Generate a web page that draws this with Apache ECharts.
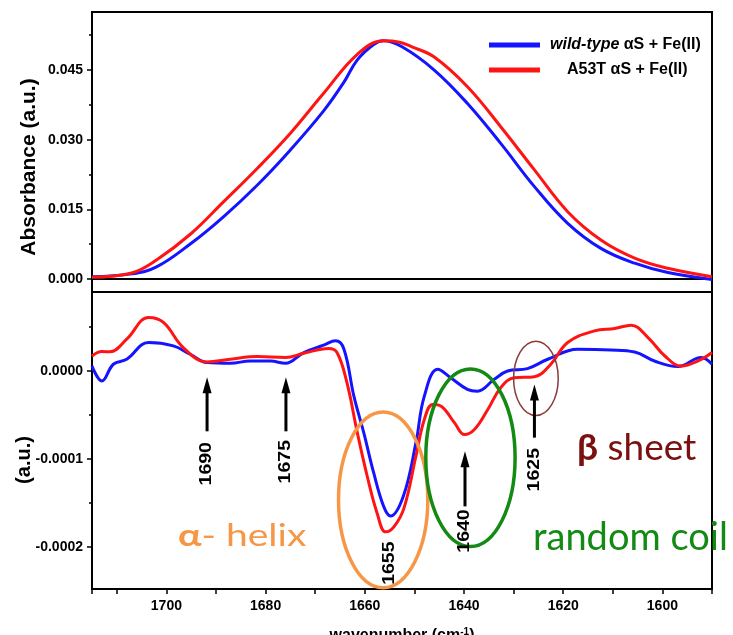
<!DOCTYPE html>
<html>
<head>
<meta charset="utf-8">
<script src="https://cdn.jsdelivr.net/npm/echarts@6/dist/echarts.min.js"></script>
<style>
  html, body { margin: 0; padding: 0; background: #fff; }
  #main { width: 733px; height: 635px; }
</style>
</head>
<body>
<div id="main"></div>
<script>
// ---- FTIR amide I band: absorbance (top) and second derivative (bottom) ----
const WT = 'wild-type αS + Fe(II)';
const MUT = 'A53T αS + Fe(II)';

// Absorbance spectra
const absWtX = [1715, 1707, 1702, 1695, 1688.5, 1681.7, 1675, 1668.3, 1664.2, 1661.5, 1658.2, 1656.2, 1652.5, 1646, 1639.3, 1632.6, 1625.8, 1619.1, 1612.4, 1605.6, 1598.9, 1590];
const absWtY = [0.0005, 0.0011, 0.0026, 0.0077, 0.0134, 0.0202, 0.0278, 0.0362, 0.0424, 0.0472, 0.0505, 0.0513, 0.0500, 0.0450, 0.0378, 0.0292, 0.0199, 0.0120, 0.0066, 0.0034, 0.0014, -0.0001];
const absMutX = [1715, 1707, 1702, 1695, 1688.5, 1681.7, 1675, 1668.3, 1661.5, 1656.2, 1653, 1650.5, 1646, 1639.3, 1632.6, 1625.8, 1619.1, 1612.4, 1605.6, 1598.9, 1590];
const absMutY = [0.0004, 0.0013, 0.0041, 0.0098, 0.0166, 0.0238, 0.0314, 0.0400, 0.0484, 0.0513, 0.0510, 0.0500, 0.0478, 0.0414, 0.0328, 0.0235, 0.0145, 0.0084, 0.0045, 0.0023, 0.0005];

// Second-derivative spectra
const derWtX = [1715, 1713, 1710.7, 1708, 1703.6, 1698.6, 1695.2, 1691.8, 1687.1, 1683.1, 1679, 1676, 1672.3, 1668.3, 1665.9, 1664.2, 1662.2, 1660.2, 1658.2, 1656.2, 1654.8, 1652.2, 1649.7, 1648, 1645.3, 1642.7, 1639.3, 1637.3, 1633.9, 1631.2, 1627.2, 1623.1, 1617.1, 1610.4, 1605.6, 1601.6, 1596.9, 1592.2, 1590];
const derWtY = [0.0000057, -0.0000114, 0.0000077, 0.0000134, 0.0000325, 0.0000286, 0.0000191, 0.0000096, 0.0000088, 0.0000114, 0.0000114, 0.0000088, 0.000021, 0.0000294, 0.0000343, 0.0000248, -0.0000286, -0.0000704, -0.000116, -0.000154, -0.000165, -0.000142, -0.0000818, -0.0000286, 0.000002, -0.0000076, -0.0000209, -0.0000229, -0.0000095, 0.0, 0.0000027, 0.0000134, 0.0000248, 0.000024, 0.0000217, 0.0000114, 0.000005, 0.0000153, 0.0000077];
const derMutX = [1715, 1713, 1711.4, 1708, 1703.6, 1700.6, 1696.6, 1691.8, 1687.1, 1681.7, 1676, 1672.3, 1667.3, 1665.6, 1663.6, 1661.5, 1659.5, 1657.5, 1655.8, 1654.1, 1652.1, 1649.7, 1648, 1646.3, 1644.6, 1641.9, 1639.9, 1637.9, 1635.2, 1632.6, 1629.9, 1625.8, 1622.5, 1619.1, 1613.7, 1609.6, 1606.3, 1602.9, 1599.5, 1596.2, 1592.8, 1590];
const derMutY = [0.0000171, 0.0000221, 0.000022, 0.0000362, 0.000061, 0.0000553, 0.0000267, 0.0000103, 0.0000134, 0.0000164, 0.0000153, 0.0000202, 0.0000256, 0.000021, -0.0000133, -0.0000704, -0.00012, -0.000162, -0.000183, -0.000177, -0.000156, -0.0000971, -0.0000552, -0.000038, -0.00004, -0.000059, -0.0000723, -0.0000666, -0.0000438, -0.000019, -0.0000076, -0.0000064, 0.0000077, 0.0000325, 0.0000457, 0.0000484, 0.0000522, 0.0000381, 0.0000171, 0.0000057, 0.0000114, 0.000021];

// Axis ticks
const topMajorTicks = [0, 0.015, 0.03, 0.045];
const topMinorTicks = [0.0075, 0.0225, 0.0375, 0.0525];
const botMajorTicks = [-0.0002, -0.0001, 0];
const botMinorTicks = [-0.00015, -0.00005, 0.00005];

// Band assignments marked with arrows
const bandLabels = ['1690', '1675', '1640', '1625', '1655'];
const bandLabelX = [1691.8, 1675.9, 1639.8, 1625.8, 1655.0];
const bandLabelY = [-0.0001055, -0.0001032, -0.000182, -0.0001123, -0.0002186];
const arrowX = [1691.8, 1675.9, 1639.8, 1625.8];
const arrowTipY = [-0.0000072, -0.0000072, -0.0000914, -0.0000152];
const arrowTailY = [-0.0000686, -0.0000686, -0.000154, -0.0000758];

// Secondary-structure regions (ellipses)
const regionCenterX = [1656.3, 1638.7, 1625.5];
const regionCenterY = [-0.0001466, -0.0000986, -0.0000083];
const regionHalfWidth = [9.0, 9.0, 4.5];
const regionHalfHeight = [0.0001, 0.000101, 0.0000423];
const regionColors = ['#f79646', '#138a13', '#8b3a3a'];

const pairs = (xs, ys) => xs.map((x, i) => [x, ys[i]]);

const FONT = '"Liberation Sans", Arial, sans-serif';
const HUMAN = 'Lato, "Open Sans", sans-serif';
const BLUE = '#1414ff';
const RED = '#ff1414';

const tickLabel = { color: '#000', fontWeight: 'bold', fontSize: 14, fontFamily: FONT };
const black2 = { color: '#000', width: 2 };

const chart = echarts.init(document.getElementById('main'), null, { renderer: 'canvas' });

const option = {
  animation: false,
  backgroundColor: '#fff',
  grid: [
    { left: 92, right: 21, top: 12, height: 280, show: true, borderColor: '#000', borderWidth: 2, outerBoundsMode: 'none', containLabel: false },
    { left: 92, right: 21, top: 292, height: 297, show: true, borderColor: '#000', borderWidth: 2, outerBoundsMode: 'none', containLabel: false }
  ],
  legend: {
    data: [WT, MUT],
    orient: 'vertical',
    left: 484,
    top: 32,
    icon: 'rect',
    itemWidth: 51,
    itemHeight: 5,
    itemGap: 9,
    selectedMode: false,
    formatter: name => name === WT
      ? '{g|}{i|wild-type}{b| αS + Fe(II)}'
      : '{g|}{p|}{b|A53T αS + Fe(II)}',
    textStyle: {
      color: '#000',
      rich: {
        g: { width: 5 },
        p: { width: 17 },
        i: { fontStyle: 'italic', fontWeight: 'bold', fontSize: 16, fontFamily: FONT, color: '#000' },
        b: { fontWeight: 'bold', fontSize: 16, fontFamily: FONT, color: '#000' }
      }
    }
  },
  xAxis: [
    {
      gridIndex: 0, type: 'value', min: 1590, max: 1715, inverse: true,
      axisLine: { show: true, lineStyle: black2 },
      axisTick: { show: false }, axisLabel: { show: false }, splitLine: { show: false }
    },
    {
      gridIndex: 1, type: 'value', min: 1590, max: 1715, interval: 10, inverse: true,
      axisLine: { show: true, onZero: false, lineStyle: black2 },
      axisTick: { show: true, length: 5, lineStyle: { color: '#000', width: 1.5 } },
      axisLabel: Object.assign({}, tickLabel, {
        interval: 0, margin: 10,
        formatter: v => (Math.round(v) % 20 === 0 ? String(Math.round(v)) : '')
      }),
      splitLine: { show: false },
      name: '{a|wavenumber (cm}{s|-1}{a|)}',
      nameLocation: 'middle',
      nameGap: 38,
      nameTextStyle: {
        rich: {
          a: { fontWeight: 'bold', fontSize: 16, fontFamily: FONT, color: '#000' },
          s: { fontWeight: 'bold', fontSize: 10, fontFamily: FONT, color: '#000', padding: [0, 0, 8, 0] }
        }
      }
    }
  ],
  yAxis: [
    {
      gridIndex: 0, type: 'value', position: 'left', min: -0.0028, max: 0.0575,
      axisLine: { show: true, onZero: false, lineStyle: black2 },
      axisTick: { show: true, length: 5, customValues: topMajorTicks, lineStyle: { color: '#000', width: 1.5 } },
      axisLabel: Object.assign({}, tickLabel, { customValues: topMajorTicks, margin: 9, formatter: v => v.toFixed(3) }),
      splitLine: { show: false },
      name: 'Absorbance (a.u.)',
      nameLocation: 'middle',
      nameMoveOverlap: false,
      nameGap: 52,
      nameTextStyle: { fontWeight: 'bold', fontSize: 21, fontFamily: FONT, color: '#000', padding: [0, 30, 0, 0] }
    },
    {
      gridIndex: 1, type: 'value', position: 'left', min: -0.000248, max: 0.0000899,
      axisLine: { show: true, onZero: false, lineStyle: black2 },
      axisTick: { show: true, length: 5, customValues: botMajorTicks, lineStyle: { color: '#000', width: 1.5 } },
      axisLabel: Object.assign({}, tickLabel, {
        customValues: botMajorTicks, margin: 9,
        formatter: v => (Math.abs(v) < 1e-12 ? '0.0000' : v.toFixed(4))
      }),
      splitLine: { show: false },
      name: '(a.u.)',
      nameLocation: 'middle',
      nameMoveOverlap: false,
      nameGap: 58,
      nameTextStyle: { fontWeight: 'bold', fontSize: 20, fontFamily: FONT, color: '#000', padding: [0, 39, 0, 0] }
    },
    {
      gridIndex: 0, type: 'value', position: 'left', min: -0.0028, max: 0.0575,
      axisLine: { show: false },
      axisTick: { show: true, length: 3, customValues: topMinorTicks, lineStyle: { color: '#000', width: 1.5 } },
      axisLabel: { show: false }, splitLine: { show: false }
    },
    {
      gridIndex: 1, type: 'value', position: 'left', min: -0.000248, max: 0.0000899,
      axisLine: { show: false },
      axisTick: { show: true, length: 3, customValues: botMinorTicks, lineStyle: { color: '#000', width: 1.5 } },
      axisLabel: { show: false }, splitLine: { show: false }
    }
  ],
  series: [
    { name: WT, type: 'line', xAxisIndex: 0, yAxisIndex: 0, data: pairs(absWtX, absWtY), smooth: 0.4, showSymbol: false, lineStyle: { color: BLUE, width: 3 }, itemStyle: { color: BLUE } },
    { name: MUT, type: 'line', xAxisIndex: 0, yAxisIndex: 0, data: pairs(absMutX, absMutY), smooth: 0.4, showSymbol: false, lineStyle: { color: RED, width: 3 }, itemStyle: { color: RED } },
    { name: WT, type: 'line', xAxisIndex: 1, yAxisIndex: 1, data: pairs(derWtX, derWtY), smooth: 0.4, showSymbol: false, lineStyle: { color: BLUE, width: 3 }, itemStyle: { color: BLUE } },
    { name: MUT, type: 'line', xAxisIndex: 1, yAxisIndex: 1, data: pairs(derMutX, derMutY), smooth: 0.4, showSymbol: false, lineStyle: { color: RED, width: 3 }, itemStyle: { color: RED } }
  ]
};

chart.setOption(option);

// Annotations on the second-derivative panel, placed in data coordinates
function annotate() {
  const toPx = (x, y) => chart.convertToPixel({ xAxisIndex: 1, yAxisIndex: 1 }, [x, y]);
  const els = [];

  regionCenterX.forEach((cx, i) => {
    const c = toPx(cx, regionCenterY[i]);
    const e = toPx(cx - regionHalfWidth[i], regionCenterY[i] + regionHalfHeight[i]);
    els.push({
      type: 'ellipse', silent: true, z: 20,
      shape: { cx: c[0], cy: c[1], rx: Math.abs(c[0] - e[0]), ry: Math.abs(c[1] - e[1]) },
      style: { fill: 'none', stroke: regionColors[i], lineWidth: i === 2 ? 1.5 : 3.5 }
    });
  });

  arrowX.forEach((x, i) => {
    const tip = toPx(x, arrowTipY[i]);
    const tail = toPx(x, arrowTailY[i]);
    els.push({
      type: 'line', silent: true, z: 21,
      shape: { x1: tail[0], y1: tail[1], x2: tip[0], y2: tip[1] + 12 },
      style: { stroke: '#000', lineWidth: 3 }
    });
    els.push({
      type: 'polygon', silent: true, z: 21,
      shape: { points: [[tip[0], tip[1]], [tip[0] - 4.5, tip[1] + 16], [tip[0] + 4.5, tip[1] + 16]] },
      style: { fill: '#000' }
    });
  });

  bandLabels.forEach((txt, i) => {
    const p = toPx(bandLabelX[i], bandLabelY[i]);
    els.push({
      type: 'text', silent: true, z: 22,
      x: p[0], y: p[1], rotation: Math.PI / 2, scaleX: 1.22,
      style: { text: txt, font: 'bold 16px ' + FONT, fill: '#000', align: 'center', verticalAlign: 'middle' }
    });
  });

  els.push({
    type: 'text', silent: true, z: 22, x: 178, y: 536, scaleX: 1.3,
    style: {
      text: '{a|α}- helix', font: '30px ' + HUMAN, fill: regionColors[0], verticalAlign: 'middle',
      rich: { a: { font: 'bold 30px ' + HUMAN, fill: regionColors[0] } }
    }
  });
  els.push({
    type: 'text', silent: true, z: 22, x: 577, y: 448,
    style: {
      text: '{b|β} sheet', font: '37px ' + HUMAN, fill: '#7b1010', verticalAlign: 'middle',
      rich: { b: { font: 'bold 37px ' + HUMAN, fill: '#7b1010' } }
    }
  });
  els.push({
    type: 'text', silent: true, z: 22, x: 533, y: 538,
    style: { text: 'random coil', font: '38px ' + HUMAN, fill: regionColors[1], verticalAlign: 'middle' }
  });

  chart.setOption({ graphic: els });
}
annotate();
</script>
</body>
</html>
